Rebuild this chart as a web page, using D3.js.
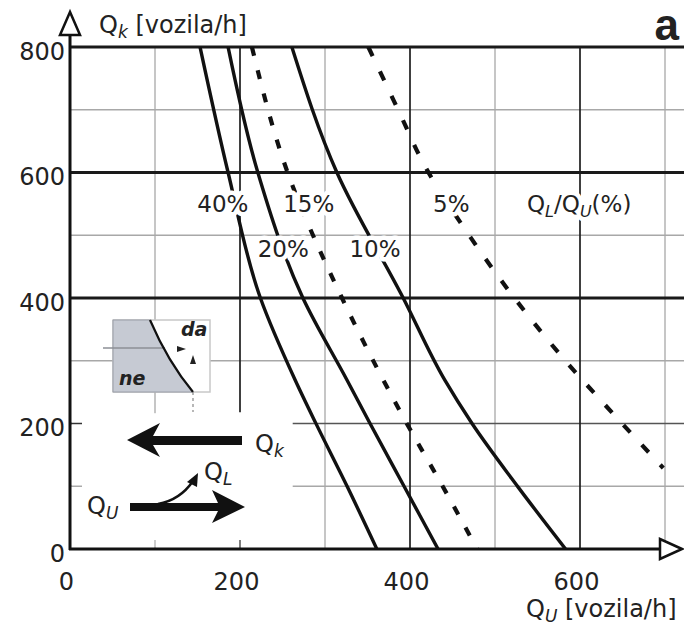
<!DOCTYPE html>
<html>
<head>
<meta charset="utf-8">
<script src="https://cdn.jsdelivr.net/npm/d3@7"></script>
<style>
  body { margin: 0; background: #fff; }
  svg text { font-family: "DejaVu Sans", sans-serif; fill: #222; }
</style>
</head>
<body>
<div id="chart"></div>
<script>
// curves: [Q_U, Q_k] pairs, one list per share Q_L/Q_U
var share40 = [[153, 800], [186, 600], [224, 400], [265, 269], [289, 201], [326, 100], [361, 0]];
var share20 = [[186, 800], [221, 600], [274, 400], [326, 269], [353, 200], [393, 100], [433, 0]];
var share15 = [[214, 800], [256, 600], [320, 400], [373, 258], [402, 186], [433, 113], [479, 0]];
var share10 = [[261, 800], [314, 600], [392, 400], [441, 269], [473, 200], [527, 99], [583, 0]];
var share5 = [[351, 800], [386, 700], [418, 609], [467, 505], [520, 405], [579, 306], [638, 217], [698, 129]];

var seriesNames = ["40%", "20%", "15%", "10%", "5%"];
var seriesData = [share40, share20, share15, share10, share5];

var xTicks = [0, 200, 400, 600];
var yTicks = [0, 200, 400, 600, 800];
var lightGrid = [100, 300, 500, 700];

var width = 684, height = 627;

// scales: Q_U on x, Q_k on y
var x = d3.scaleLinear().domain([0, 700]).range([70, 665]);
var y = d3.scaleLinear().domain([0, 800]).range([549, 47]);

var svg = d3.select("#chart").append("svg")
    .attr("width", width)
    .attr("height", height);

// text made of parts [string, isSubscript]; optional white halo drawn underneath
function richText(px, py, parts, size, halo) {
  var layers = halo ? [true, false] : [false];
  layers.forEach(function(isHalo) {
    var t = svg.append("text")
        .attr("x", px).attr("y", py)
        .style("font-size", size + "px");
    if (isHalo) t.style("fill", "#fff").style("stroke", "#fff").style("stroke-width", 9).style("stroke-linejoin", "round");
    var shift = 0;
    parts.forEach(function(p) {
      var sp = t.append("tspan").text(p[0]);
      var want = p[1] ? 5 : 0;
      sp.attr("dy", want - shift);
      shift = want;
      if (p[1]) sp.style("font-size", Math.round(size * 0.7) + "px").style("font-style", "italic");
    });
  });
}

// light grid
svg.selectAll(".vlight")
    .data(lightGrid)
  .enter().append("line")
    .attr("x1", function(d) { return x(d); })
    .attr("x2", function(d) { return x(d); })
    .attr("y1", y(800))
    .attr("y2", y(0))
    .attr("stroke", "#a8a8a8")
    .attr("stroke-width", 1.3);

svg.selectAll(".hlight")
    .data(lightGrid)
  .enter().append("line")
    .attr("x1", x(0))
    .attr("x2", width)
    .attr("y1", function(d) { return y(d); })
    .attr("y2", function(d) { return y(d); })
    .attr("stroke", "#a8a8a8")
    .attr("stroke-width", 1.3);

// 200 line is a bit darker
svg.append("line")
    .attr("x1", x(0)).attr("x2", width)
    .attr("y1", y(200)).attr("y2", y(200))
    .attr("stroke", "#555").attr("stroke-width", 1.6);

// dark vertical lines
svg.selectAll(".vdark")
    .data([200, 400, 600])
  .enter().append("line")
    .attr("x1", function(d) { return x(d); })
    .attr("x2", function(d) { return x(d); })
    .attr("y1", y(800))
    .attr("y2", function(d) { return d == 200 ? y(218) : y(0); })
    .attr("stroke", "#1e1e1e")
    .attr("stroke-width", 1.7);

// thick horizontal lines
svg.selectAll(".hdark")
    .data([400, 600, 800])
  .enter().append("line")
    .attr("x1", x(0))
    .attr("x2", width)
    .attr("y1", function(d) { return y(d); })
    .attr("y2", function(d) { return y(d); })
    .attr("stroke", "#1a1a1a")
    .attr("stroke-width", 2.8);

// blank corner for the flow sketch
svg.append("rect")
    .attr("x", x(0) + 2).attr("y", y(218) + 1)
    .attr("width", x(262) - x(0) - 2)
    .attr("height", y(0) - y(218) - 3)
    .attr("fill", "#fff");

// small inner ticks in the blank corner
svg.selectAll(".ytick")
    .data([100, 200])
  .enter().append("line")
    .attr("x1", x(0)).attr("x2", x(0) + 12)
    .attr("y1", function(d) { return y(d); })
    .attr("y2", function(d) { return y(d); })
    .attr("stroke", function(d) { return d == 200 ? "#333" : "#aaa"; })
    .attr("stroke-width", 1.5);
svg.selectAll(".xtick")
    .data([100, 200])
  .enter().append("line")
    .attr("x1", function(d) { return x(d); })
    .attr("x2", function(d) { return x(d); })
    .attr("y1", y(0)).attr("y2", y(0) - 9)
    .attr("stroke", function(d) { return d == 200 ? "#555" : "#bbb"; })
    .attr("stroke-width", 1.5);

// curves
svg.append("clipPath").attr("id", "plot")
  .append("rect")
    .attr("x", x(0)).attr("y", y(800))
    .attr("width", width - x(0)).attr("height", y(0) - y(800));

var line = d3.line()
    .x(function(d) { return x(d[0]); })
    .y(function(d) { return y(d[1]); })
    .curve(d3.curveMonotoneY);

svg.append("g").attr("clip-path", "url(#plot)")
  .selectAll("path")
    .data(seriesData)
  .enter().append("path")
    .attr("d", line)
    .attr("fill", "none")
    .attr("stroke", "#111")
    .attr("stroke-width", function(d, i) { return (i == 2 || i == 4) ? 4.2 : 3.4; })
    .attr("stroke-dasharray", function(d, i) {
      if (i == 2) return "9,15";
      if (i == 4) return "10,17";
      return null;
    });

// curve labels (white halo cuts the lines like in the print)
var labelPos = [[178, 537], [249, 465], [279, 537], [357, 465], [446, 537]];
seriesNames.forEach(function(name, i) {
  var w = name.length * 16;
  richText(x(labelPos[i][0]) - w / 2, y(labelPos[i][1]), [[name, false]], 23, true);
});

richText(527, y(537), [["Q", false], ["L", true], ["/Q", false], ["U", true], ["(%)", false]], 23, true);

// axes lines with open arrow heads
svg.append("line")
    .attr("x1", x(0)).attr("x2", x(0))
    .attr("y1", y(0) + 1).attr("y2", 35)
    .attr("stroke", "#111").attr("stroke-width", 3);
svg.append("path")
    .attr("d", "M" + x(0) + ",12 L" + (x(0) - 10) + ",35 L" + (x(0) + 10) + ",35 Z")
    .attr("fill", "#fff").attr("stroke", "#111").attr("stroke-width", 2.5);

svg.append("line")
    .attr("x1", x(0) - 1).attr("x2", 662)
    .attr("y1", y(0)).attr("y2", y(0))
    .attr("stroke", "#111").attr("stroke-width", 3);
svg.append("path")
    .attr("d", "M682," + y(0) + " L660," + (y(0) - 10) + " L660," + (y(0) + 10) + " Z")
    .attr("fill", "#fff").attr("stroke", "#111").attr("stroke-width", 2.5);

// tick labels
var yAxis = svg.append("g")
    .attr("transform", "translate(" + x(0) + ",0)")
    .call(d3.axisLeft(y).tickValues(yTicks).tickSize(0).tickPadding(5));
yAxis.select(".domain").remove();
yAxis.selectAll("text")
    .attr("dy", "0.5em")
    .style("font-size", "24px")
    .style("font-family", "DejaVu Sans, sans-serif")
    .attr("fill", "#222");

var xAxis = svg.append("g")
    .attr("transform", "translate(0," + y(0) + ")")
    .call(d3.axisBottom(x).tickValues(xTicks).tickSize(0).tickPadding(24));
xAxis.select(".domain").remove();
xAxis.selectAll("text")
    .attr("dx", -4)
    .style("font-size", "24px")
    .style("font-family", "DejaVu Sans, sans-serif")
    .attr("fill", "#222");

// axis titles
richText(99, 33, [["Q", false], ["k", true], [" [vozila/h]", false]], 24, false);
richText(526, 617, [["Q", false], ["U", true], [" [vozila/h]", false]], 24, false);

svg.append("text")
    .attr("x", 679).attr("y", 40)
    .attr("text-anchor", "end")
    .style("font-family", "Liberation Sans, Arial, sans-serif")
    .style("font-weight", "bold")
    .style("font-size", "44px")
    .text("a");

// small sketch: decision box
var box = svg.append("g");
box.append("rect")
    .attr("x", 113).attr("y", 320).attr("width", 97).attr("height", 72)
    .attr("fill", "#fff").attr("stroke", "#c8c8c8").attr("stroke-width", 1.5);
box.append("path")
    .attr("d", "M113,320 L150,320 Q168,362 193,392 L113,392 Z")
    .attr("fill", "#c6cad3").attr("stroke", "#9a9ea8").attr("stroke-width", 1);
box.append("line")
    .attr("x1", 103).attr("x2", 165).attr("y1", 348).attr("y2", 348)
    .attr("stroke", "#8c8f96").attr("stroke-width", 1.3);
box.append("path")
    .attr("d", "M150,320 Q168,362 193,392")
    .attr("fill", "none").attr("stroke", "#111").attr("stroke-width", 2.2);
box.append("line")
    .attr("x1", 193).attr("x2", 193).attr("y1", 392).attr("y2", 412)
    .attr("stroke", "#888").attr("stroke-width", 1.2).attr("stroke-dasharray", "3,3");
box.append("path").attr("d", "M177,346 L186,349 L177,352 Z").attr("fill", "#222");
box.append("path").attr("d", "M190,364 L193,355 L196,364 Z").attr("fill", "#222");
box.append("text").attr("x", 181).attr("y", 336)
    .style("font-size", "19px").style("font-weight", "bold").style("font-style", "italic").text("da");
box.append("text").attr("x", 119).attr("y", 385)
    .style("font-size", "19px").style("font-weight", "bold").style("font-style", "italic").text("ne");

// flow arrows
svg.append("path")
    .attr("d", "M127,440 L160,423 L153,436 L242,436 L242,445 L153,445 L160,457 Z")
    .attr("fill", "#111");
richText(255, 452, [["Q", false], ["k", true]], 24, false);

svg.append("path")
    .attr("d", "M130,503 L218,503 L212,490 L245,507 L212,523 L218,511 L130,511 Z")
    .attr("fill", "#111");
svg.append("path")
    .attr("d", "M158,504 Q180,500 193,481")
    .attr("fill", "none").attr("stroke", "#111").attr("stroke-width", 2.5);
svg.append("path").attr("d", "M198,473 L187,482 L197,487 Z").attr("fill", "#111");

richText(204, 480, [["Q", false], ["L", true]], 24, false);
richText(87, 514, [["Q", false], ["U", true]], 24, false);
</script>
</body>
</html>
